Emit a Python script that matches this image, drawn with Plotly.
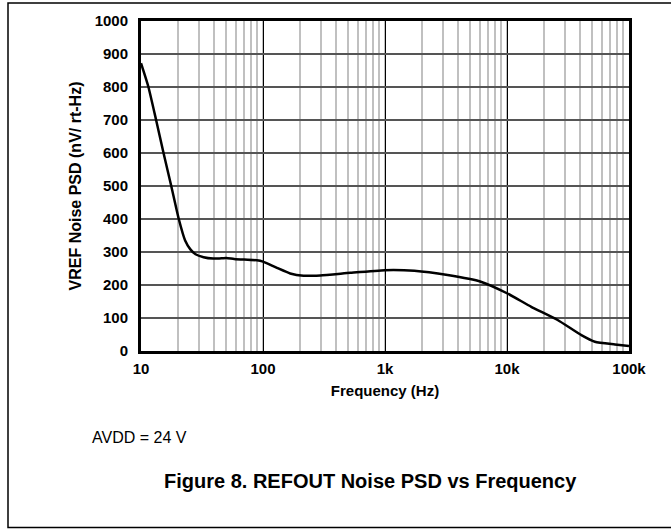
import plotly.graph_objects as go

# Data
freq_hz = [10, 11.5, 13.3, 15.3, 17.7, 20.4, 23, 25.4, 28, 32.6, 39, 46, 50, 58, 70, 89, 100,
           130, 167, 215, 295, 520, 1000, 1740, 3260, 6100, 10000, 15800, 26000, 40700,
           52500, 76700, 100000]
psd_nv = [872, 800, 700, 600, 500, 400, 335, 308, 293, 284, 280, 281, 282, 279, 277, 275, 271,
          252, 235, 228, 229, 237, 245, 243, 230, 210, 175, 134, 94, 48,
          28, 20, 15]

x_tick_vals = [10, 100, 1000, 10000, 100000]
x_tick_text = ["10", "100", "1k", "10k", "100k"]
y_tick_vals = [0, 100, 200, 300, 400, 500, 600, 700, 800, 900, 1000]

FONT = "Arial, Liberation Sans, sans-serif"

fig = go.Figure()
fig.add_trace(go.Scatter(
    x=freq_hz, y=psd_nv, mode="lines",
    line=dict(color="black", width=2.5, shape="spline", smoothing=0.5),
    showlegend=False, hoverinfo="skip",
))

fig.update_layout(
    width=671, height=529,
    margin=dict(l=141, r=42, t=21, b=178),
    paper_bgcolor="white", plot_bgcolor="white",
    font=dict(family=FONT, color="black"),
    showlegend=False,
)

fig.update_xaxes(
    type="log", range=[1, 5],
    tickvals=x_tick_vals, ticktext=x_tick_text,
    tickfont=dict(family=FONT, size=15, color="black", weight="bold"),
    showgrid=True, gridcolor="black", gridwidth=1,
    minor=dict(dtick="D1", showgrid=True, gridcolor="#c0c0c0", gridwidth=2, ticks=""),
    showline=True, linecolor="black", linewidth=3, mirror=True,
    ticks="", ticklabelstandoff=2,
    zeroline=False,
    title=dict(text="Frequency (Hz)", font=dict(family=FONT, size=15, color="black", weight="bold"),
               standoff=10),
)
fig.update_yaxes(
    range=[0, 1000], tickvals=y_tick_vals,
    tickfont=dict(family=FONT, size=15, color="black", weight="bold"),
    showgrid=True, gridcolor="#555555", gridwidth=1.5,
    showline=True, linecolor="black", linewidth=3, mirror=True,
    ticks="", ticklabelstandoff=7,
    zeroline=False,
    title=dict(text="VREF Noise PSD (nV/ rt-Hz)", font=dict(family=FONT, size=16, color="black", weight="bold"),
               standoff=10),
)

# Outer frame: left, top and bottom edges only (open path, no right edge)
fx0 = (8 - 141) / 488
fx1 = (700 - 141) / 488
fy0 = (351 - 527.5) / 330
fy1 = (351 - 3) / 330
fig.add_shape(type="path", xref="paper", yref="paper",
              path=f"M {fx1},{fy1} L {fx0},{fy1} L {fx0},{fy0} L {fx1},{fy0}",
              line=dict(color="black", width=1.5), fillcolor="rgba(0,0,0,0)", layer="below")

fig.add_annotation(text="AVDD = 24 V", xref="paper", yref="paper",
                   x=(90 - 141) / 488, y=(351 - 437) / 330, xanchor="left", yanchor="middle",
                   showarrow=False, font=dict(family=FONT, size=16, color="black"))
fig.add_annotation(text="<b>Figure 8. REFOUT Noise PSD vs Frequency</b>", xref="paper", yref="paper",
                   x=(370 - 141) / 488, y=(351 - 481) / 330, xanchor="center", yanchor="middle",
                   showarrow=False, font=dict(family=FONT, size=20, color="black"))

fig.write_html("out.html", config={"displayModeBar": False},
               post_script="document.body.style.margin='0';document.body.style.overflow='hidden';")
